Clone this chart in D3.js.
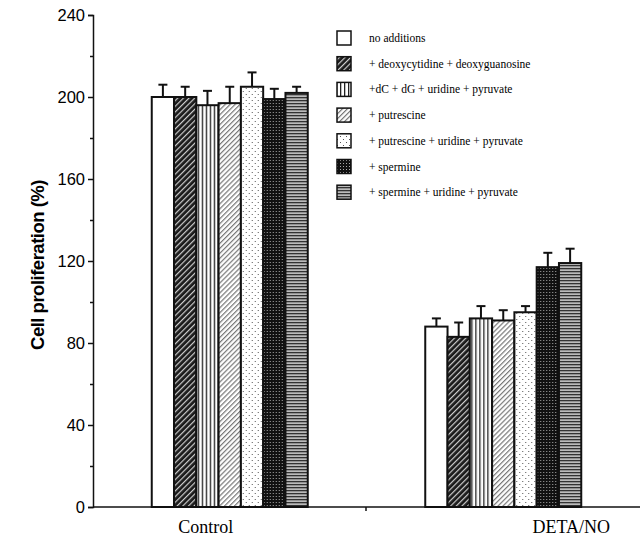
<!DOCTYPE html>
<html>
<head>
<meta charset="utf-8">
<script src="https://cdn.jsdelivr.net/npm/d3@7"></script>
<style>
  body { margin: 0; background: #fff; }
  svg { display: block; }
</style>
</head>
<body>
<svg></svg>
<script>
let width = 641;
let height = 540;

// data
const groups = ["Control", "DETA/NO"];
const treatments = [
  "no additions",
  "+ deoxycytidine + deoxyguanosine",
  "+dC + dG + uridine + pyruvate",
  "+ putrescine",
  "+ putrescine + uridine + pyruvate",
  "+ spermine",
  "+ spermine + uridine + pyruvate"
];
const controlValues = [200, 200, 196, 197, 205, 199, 202];
const controlErrors = [6, 5, 7, 8, 7, 5, 3];
const detaValues = [88, 83, 92, 91, 95, 117, 119];
const detaErrors = [4, 7, 6, 5, 3, 7, 7];
const yTicks = [0, 40, 80, 120, 160, 200, 240];

const values = [controlValues, detaValues];
const errors = [controlErrors, detaErrors];

let svg = d3.select("svg").attr("width", width).attr("height", height);

// fill patterns, one per treatment
let defs = svg.append("defs");
function pat(id, w, h, rot) {
  let p = defs.append("pattern").attr("id", id)
    .attr("patternUnits", "userSpaceOnUse").attr("width", w).attr("height", h);
  if (rot) p.attr("patternTransform", "rotate(" + rot + ")");
  return p;
}
// dark diagonal
let p1 = pat("p1", 4, 4, 45);
p1.append("rect").attr("width", 4).attr("height", 4).attr("fill", "#1a1a1a");
p1.append("rect").attr("width", 1.2).attr("height", 4).attr("fill", "#ccc");
// vertical lines
let p2 = pat("p2", 4, 4);
p2.append("rect").attr("width", 4).attr("height", 4).attr("fill", "#fff");
p2.append("rect").attr("width", 1.3).attr("height", 4).attr("fill", "#222");
// light diagonal
let p3 = pat("p3", 3.5, 3.5, 45);
p3.append("rect").attr("width", 3.5).attr("height", 3.5).attr("fill", "#fff");
p3.append("rect").attr("width", 1.2).attr("height", 3.5).attr("fill", "#777");
// sparse dots
let p4 = pat("p4", 6, 6);
p4.append("rect").attr("width", 6).attr("height", 6).attr("fill", "#fff");
p4.append("rect").attr("x", 1).attr("y", 1).attr("width", 1).attr("height", 1).attr("fill", "#555");
p4.append("rect").attr("x", 4).attr("y", 4).attr("width", 1).attr("height", 1).attr("fill", "#555");
// dense dark dots
let p5 = pat("p5", 3, 3);
p5.append("rect").attr("width", 3).attr("height", 3).attr("fill", "#111");
p5.append("rect").attr("x", 1).attr("y", 1).attr("width", 1).attr("height", 1).attr("fill", "#aaa");
// horizontal lines
let p6 = pat("p6", 4, 3);
p6.append("rect").attr("width", 4).attr("height", 3).attr("fill", "#bbb");
p6.append("rect").attr("y", 1).attr("width", 4).attr("height", 1.3).attr("fill", "#333");

const fills = ["#fff", "url(#p1)", "url(#p2)", "url(#p3)", "url(#p4)", "url(#p5)", "url(#p6)"];

// scales
let yScale = d3.scaleLinear().domain([0, 240]).range([507, 15]);
let xScale = d3.scalePoint().domain(groups).range([93, 640]).padding(0.5);
let x1 = d3.scaleBand().domain(treatments).range([-78, 78]);

// bars
groups.forEach((g, gi) => {
  let gr = svg.append("g").attr("transform", "translate(" + xScale(g) + ",0)");
  treatments.forEach((t, ti) => {
    let v = values[gi][ti];
    let e = errors[gi][ti];
    let cx = x1(t) + x1.bandwidth() / 2;
    // error bar (upper only)
    gr.append("line").attr("x1", cx).attr("x2", cx)
      .attr("y1", yScale(v)).attr("y2", yScale(v + e))
      .attr("stroke", "#111").attr("stroke-width", 2);
    gr.append("line").attr("x1", cx - 4.5).attr("x2", cx + 4.5)
      .attr("y1", yScale(v + e)).attr("y2", yScale(v + e))
      .attr("stroke", "#111").attr("stroke-width", 2);
    gr.append("rect")
      .attr("x", x1(t)).attr("width", x1.bandwidth())
      .attr("y", yScale(v)).attr("height", yScale(0) - yScale(v))
      .attr("fill", fills[ti]).attr("stroke", "#111").attr("stroke-width", 2);
  });
});

// y axis
let yAxis = d3.axisLeft(yScale).tickValues(yTicks).tickSize(5).tickPadding(3);
let ya = svg.append("g").attr("transform", "translate(93,0)").call(yAxis);
ya.select(".domain").attr("stroke", "#111").attr("stroke-width", 1.5);
ya.selectAll(".tick line").attr("stroke", "#111").attr("stroke-width", 1.5);
ya.selectAll(".tick text").attr("font-family", "Liberation Sans, Arial, sans-serif")
  .attr("font-size", 16.5).attr("fill", "#000");
// minor ticks
let yMinor = d3.axisLeft(yScale).tickValues(d3.range(20, 240, 40)).tickSize(3).tickFormat("");
let ym = svg.append("g").attr("transform", "translate(93,0)").call(yMinor);
ym.select(".domain").remove();
ym.selectAll(".tick line").attr("stroke", "#111").attr("stroke-width", 1.5);

// x axis
svg.append("line").attr("x1", 93).attr("x2", 640)
  .attr("y1", yScale(0)).attr("y2", yScale(0))
  .attr("stroke", "#111").attr("stroke-width", 1.5);
svg.append("line").attr("x1", 366).attr("x2", 366)
  .attr("y1", yScale(0)).attr("y2", yScale(0) + 4)
  .attr("stroke", "#111").attr("stroke-width", 1.5);
svg.selectAll(".xlab").data(groups).enter().append("text")
  .attr("class", "xlab")
  .attr("x", d => xScale(d) + (d === "Control" ? -24 : 68))
  .attr("y", 533)
  .attr("text-anchor", "middle")
  .attr("font-family", "Liberation Serif, Times New Roman, serif")
  .attr("font-size", 18)
  .text(d => d);

// y title
svg.append("text")
  .attr("transform", "translate(44,265) rotate(-90)")
  .attr("text-anchor", "middle")
  .attr("font-family", "Liberation Sans, Arial, sans-serif")
  .attr("font-weight", "bold")
  .attr("font-size", 18.5)
  .attr("letter-spacing", -0.5)
  .text("Cell proliferation (%)");

// legend
let legend = svg.append("g");
treatments.forEach((t, i) => {
  let ly = 38 + i * 25.7;
  legend.append("rect").attr("x", 337).attr("y", ly - 7).attr("width", 14).attr("height", 14)
    .attr("fill", fills[i]).attr("stroke", "#111").attr("stroke-width", 1.5);
  legend.append("text").attr("x", 369).attr("y", ly + 4)
    .attr("font-family", "Liberation Serif, Times New Roman, serif")
    .attr("font-size", 11.5)
    .text(t);
});
</script>
</body>
</html>
